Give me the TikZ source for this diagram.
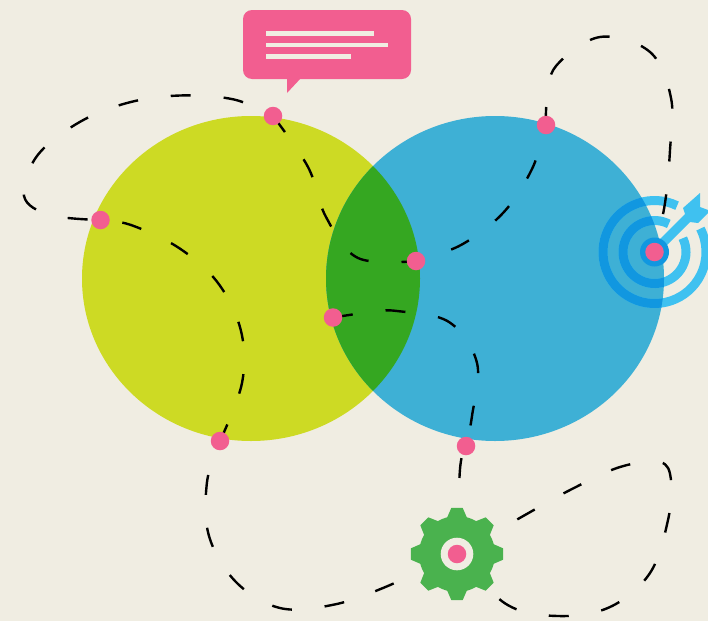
\documentclass[tikz,border=0pt]{standalone}
\usepackage{tikz}
\usepackage{xcolor}
\definecolor{paper}{HTML}{F0EDE2}
\definecolor{lime}{HTML}{CDDA24}
\definecolor{sky}{HTML}{3EB0D5}
\definecolor{leaf}{HTML}{35A721}
\definecolor{rose}{HTML}{F25E90}
\definecolor{cog}{HTML}{4AB24E}
\definecolor{ringlight}{HTML}{3FC1F0}
\definecolor{ringdark}{HTML}{1197E0}
\pgfdeclarelayer{back}
\pgfsetlayers{back,main}
\tikzset{
  pinkdot/.style={circle,fill=rose,inner sep=0pt,minimum size=18.5pt},
  trail/.style={color=black,line width=2.4pt,dash pattern=on 20pt off 33pt},
  ringline/.style={line width=9pt},
}
\begin{document}
\begin{tikzpicture}[x=1pt,y=-1pt]
\useasboundingbox (0,0) rectangle (708,621);
% les points roses
\node[pinkdot] (dotTop) at (273,116) {};
\node[pinkdot] (dotLeft) at (100.5,220) {};
\node[pinkdot] (dotBottom) at (220,441) {};
\node[pinkdot] (dotMiddle) at (416,261) {};
\node[pinkdot] (dotInner) at (333,317.5) {};
\node[pinkdot] (dotRight) at (546,125) {};
\node[pinkdot] (dotLow) at (466,446) {};
\node[pinkdot] (dotTarget) at (654.5,252) {};
\node[pinkdot] (dotGear) at (457,554) {};
\begin{pgfonlayer}{back}
\fill[paper] (0,0) rectangle (708,621);
% les deux disques
\fill[lime] (251,278.5) ellipse (169 and 162.5);
\fill[sky] (495,278.5) ellipse (169 and 162.5);
\begin{scope}
\clip (251,278.5) ellipse (169 and 162.5);
\fill[leaf] (495,278.5) ellipse (169 and 162.5);
\end{scope}
% la cible
\draw[ringlight,ringline] (dotTarget) ++(-64:51.5) arc[start angle=-64,end angle=-387,radius=51.5];
\draw[ringlight,ringline] (dotTarget) ++(-63:31.5) arc[start angle=-63,end angle=-386,radius=31.5];
\fill[ringlight] (660,239)--(685,214)--(683,208)--(700,193)--(700,207)--(708,210)--(708,213)--(698,223)--(690,222)--(666,246)--cycle;
\begin{scope}
\clip (495,278.5) ellipse (169 and 162.5);
\draw[ringdark,ringline] (dotTarget) ++(-64:51.5) arc[start angle=-64,end angle=-387,radius=51.5];
\draw[ringdark,ringline] (dotTarget) ++(-63:31.5) arc[start angle=-63,end angle=-386,radius=31.5];
\end{scope}
\fill[ringdark] (dotTarget) circle (14.5);
% les pointilles
\draw[trail,dash phase=20pt] plot[smooth,tension=0.6] coordinates {(dotTop) (234,99.5) (180,95.5) (127,103) (78,123) (37,156) (24,196) (50,215) (dotLeft)};
\draw[trail,dash phase=31pt] plot[smooth,tension=0.6] coordinates {(dotLeft) (131,225) (179,248) (218,283) (241,331) (242,383) (dotBottom)};
\draw[trail,dash phase=17pt] plot[smooth,tension=0.6] coordinates {(dotBottom) (207,482) (209,536) (236,582) (280,608) (332,605) (383,588) (dotGear)};
\draw[trail,dash phase=44pt] plot[smooth,tension=0.6] coordinates {(dotGear) (506,604) (558,616) (610,607) (650,573) (668,520) (671,480) (660,462) (620,467) (572,489) (525,515) (dotGear)};
\draw[trail,dash phase=0pt] plot[smooth,tension=0.6] coordinates {(dotTop) (308,167) (326,217) (358,258) (dotMiddle)};
\draw[trail,dash phase=16pt] plot[smooth,tension=0.6] coordinates {(dotMiddle) (461,245) (503,213) (532,169) (dotRight)};
\draw[trail,dash phase=2pt] plot[smooth,tension=0.6] coordinates {(dotRight) (547,100) (556,66) (600,37) (650,52) (671,98) (670,150) (665,203) (dotTarget)};
\draw[trail,dash phase=0pt] plot[smooth,tension=0.6] coordinates {(dotInner) (371,312) (397,311) (449,322) (477,363) (472,416) (dotLow)};
\draw[trail,dash phase=40pt] plot[smooth,tension=0.6] coordinates {(dotLow) (460,469) (dotGear)};
% la roue
\fill[cog] (dotGear) circle (38);
\foreach \a in {0,45,...,315}
  \fill[cog,shift={(dotGear)}] (\a-15.5:37.5)--(\a-7:46.5)--(\a+7:46.5)--(\a+15.5:37.5)--cycle;
\fill[paper] (dotGear) circle (16.3);
% la bulle
\fill[rose,rounded corners=9pt] (243,10) rectangle (411,79);
\fill[rose] (287,78)--(287,93)--(301,78)--cycle;
\fill[paper] (266,31) rectangle (374,35.5);
\fill[paper] (266,42.5) rectangle (388,47);
\fill[paper] (266,54) rectangle (351,58.5);
\end{pgfonlayer}
\end{tikzpicture}
\end{document}
